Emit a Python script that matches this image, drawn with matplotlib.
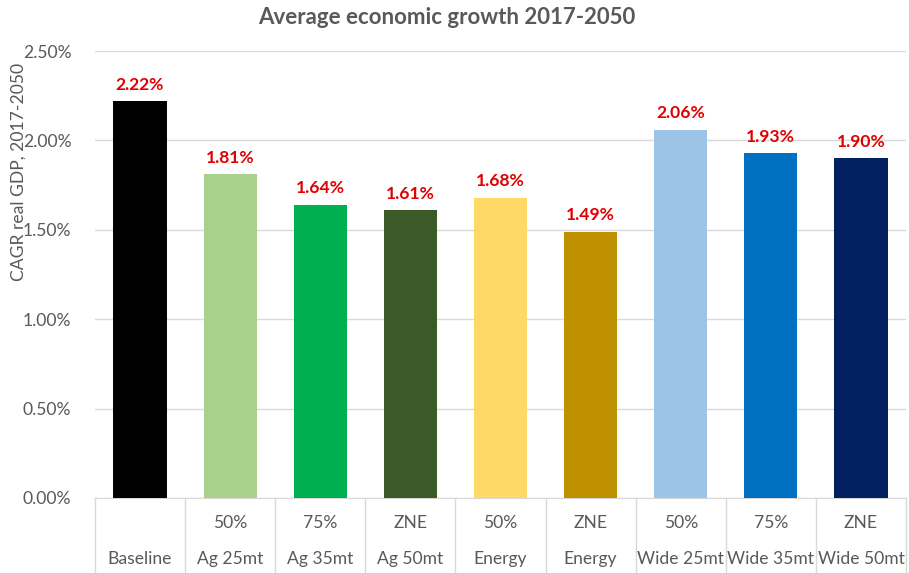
import matplotlib
matplotlib.use("Agg")
import matplotlib.pyplot as plt
from matplotlib.lines import Line2D

plt.rcParams['font.family'] = ['Lato', 'DejaVu Sans']

top_labels = ["", "50%", "75%", "ZNE", "50%", "ZNE", "50%", "75%", "ZNE"]
bottom_labels = ["Baseline", "Ag 25mt", "Ag 35mt", "Ag 50mt", "Energy", "Energy",
                 "Wide 25mt", "Wide 35mt", "Wide 50mt"]
values = [2.22, 1.81, 1.64, 1.61, 1.68, 1.49, 2.06, 1.93, 1.90]
colors = ["#000000", "#A9D18E", "#00B050", "#3A5A27", "#FFD966", "#BF9000",
          "#9DC3E6", "#0070C0", "#002060"]
yticks = [0.0, 0.5, 1.0, 1.5, 2.0, 2.5]

W, H = 909, 573
fig = plt.figure(figsize=(W / 100, H / 100), dpi=100)
left, right, y0, ytop = 95, 906, 498, 51
ax = fig.add_axes([left / W, (H - y0) / H, (right - left) / W, (y0 - ytop) / H])

fs = 12.6
x = list(range(len(values)))
ax.bar(x, values, width=0.59, color=colors, zorder=3)
ax.set_xlim(-0.5, len(values) - 0.5)
ax.set_ylim(0, 2.5)
ax.set_yticks(yticks)
ax.set_yticklabels([f"{v:.2f}%" for v in yticks], fontsize=fs, color="#595959")
ax.yaxis.grid(True, color="#D9D9D9", linewidth=1, zorder=0)
ax.tick_params(axis='y', length=0, pad=17)
ax.set_xticks([])
for s in ["top", "right", "left"]:
    ax.spines[s].set_visible(False)
ax.spines["bottom"].set_color("#D9D9D9")

for xi, v in zip(x, values):
    ax.annotate(f"{v:.2f}%", (xi, v), xytext=(0, 6), textcoords="offset points",
                ha="center", va="bottom", fontsize=fs, fontweight="bold", color="#E00000")

# multi-level category labels
trans = ax.get_xaxis_transform()
for xi, t, b in zip(x, top_labels, bottom_labels):
    ax.text(xi, -(523 - y0) / (y0 - ytop), t, transform=trans, ha="center", va="center",
            fontsize=fs, color="#595959")
    ax.text(xi, -(559 - y0) / (y0 - ytop), b, transform=trans, ha="center", va="center",
            fontsize=fs, color="#595959")
for xb in [i - 0.5 for i in range(len(values) + 1)]:
    ax.add_line(Line2D([xb, xb], [0, -(H - y0) / (y0 - ytop)], transform=trans,
                       color="#D9D9D9", linewidth=1, clip_on=False))

fig.text(19 / W, 1 - 172 / H, "CAGR real GDP, 2017-2050", rotation=90,
         ha="center", va="center", fontsize=fs, color="#595959")
fig.text(447 / W, 1 - 18 / H, "Average economic growth 2017-2050",
         ha="center", va="center", fontsize=16, fontweight="bold", color="#595959")

fig.savefig("out.png", dpi=100)
